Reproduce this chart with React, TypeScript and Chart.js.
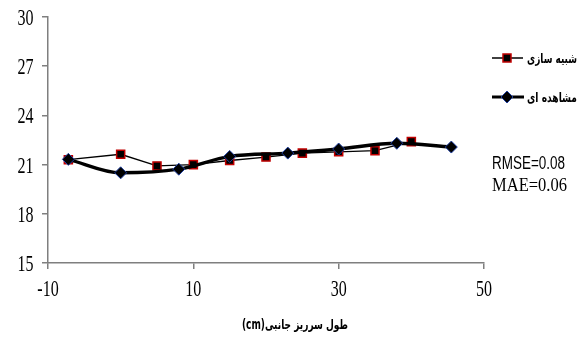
import React, { useEffect, useRef } from 'react';
import { Chart, registerables } from 'chart.js';
Chart.register(...registerables);

const simX = [-7.2, 0, 5, 10, 15, 20, 25, 30, 35, 40];
const simY = [21.3, 21.63, 20.92, 21.0, 21.25, 21.46, 21.7, 21.78, 21.85, 22.4];
const obsX = [-7.2, 0, 8, 15, 23, 30, 38, 45.5];
const obsY = [21.32, 20.5, 20.72, 21.5, 21.7, 21.95, 22.3, 22.07];
const xTicks = [-10, 10, 30, 50];
const yTicks = [15, 18, 21, 24, 27, 30];
const seriesNames = ['شبیه سازی', 'مشاهده ای'];
const xTitle = 'طول سرریز جانبی(cm)';
const stats = ['RMSE=0.08', 'MAE=0.06'];

const SERIF = "'Liberation Serif', 'Times New Roman', serif";
const AXIS_COLOR = '#7f7f7f';
const FA_FONT = "bold 11px 'DejaVu Sans Condensed', 'DejaVu Sans', sans-serif";

function drawSquare(ctx: CanvasRenderingContext2D, x: number, y: number, s: number) {
  ctx.save();
  ctx.fillStyle = '#000';
  ctx.strokeStyle = '#c00000';
  ctx.lineWidth = 1.5;
  ctx.beginPath();
  ctx.rect(x - s / 2, y - s / 2, s, s);
  ctx.fill();
  ctx.stroke();
  ctx.restore();
}
function drawDiamond(ctx: CanvasRenderingContext2D, x: number, y: number, r: number) {
  ctx.save();
  ctx.fillStyle = '#000';
  ctx.strokeStyle = '#1f3f9f';
  ctx.lineWidth = 1;
  ctx.beginPath();
  ctx.moveTo(x, y - r);
  ctx.lineTo(x + r, y);
  ctx.lineTo(x, y + r);
  ctx.lineTo(x - r, y);
  ctx.closePath();
  ctx.fill();
  ctx.stroke();
  ctx.restore();
}

function fitText(ctx: CanvasRenderingContext2D, text: string, x: number, y: number, w: number, sy: number) {
  const m = ctx.measureText(text).width;
  const sx = w / m;
  ctx.save();
  ctx.translate(x, y);
  ctx.scale(sx, sy);
  ctx.fillText(text, 0, 0);
  ctx.restore();
}

function stretchText(ctx: CanvasRenderingContext2D, text: string, x: number, y: number, sx: number, sy: number) {
  ctx.save();
  ctx.translate(x, y);
  ctx.scale(sx, sy);
  ctx.fillText(text, 0, 0);
  ctx.restore();
}

const annotPlugin = {
  id: 'annot',
  afterDraw(chart: any) {
    const ctx: CanvasRenderingContext2D = chart.ctx;
    const xs = chart.scales.x;
    const ys = chart.scales.y;
    ctx.save();
    // tick labels (vertically stretched serif digits)
    ctx.fillStyle = '#000';
    ctx.font = `16px ${SERIF}`;
    ctx.textBaseline = 'alphabetic';
    ctx.textAlign = 'right';
    yTicks.forEach((v) => {
      stretchText(ctx, String(v), 33.5, ys.getPixelForValue(v) + 8, 1.0, 1.45);
    });
    ctx.textAlign = 'center';
    xTicks.forEach((v) => {
      stretchText(ctx, String(v), xs.getPixelForValue(v), 296, 1.0, 1.45);
    });
    // legend item 1
    ctx.strokeStyle = '#000';
    ctx.lineWidth = 1.5;
    ctx.beginPath();
    ctx.moveTo(492, 58);
    ctx.lineTo(523, 58);
    ctx.stroke();
    drawSquare(ctx, 507, 58, 8);
    // legend item 2
    ctx.lineWidth = 3;
    ctx.beginPath();
    ctx.moveTo(492, 97);
    ctx.lineTo(524, 97);
    ctx.stroke();
    drawDiamond(ctx, 507, 97, 6);
    ctx.fillStyle = '#000';
    ctx.textBaseline = 'middle';
    ctx.direction = 'rtl';
    ctx.textAlign = 'left';
    ctx.font = FA_FONT;
    fitText(ctx, seriesNames[0], 527, 60, 50, 1.2);
    fitText(ctx, seriesNames[1], 527, 99, 50, 1.2);
    // stats
    ctx.direction = 'ltr';
    ctx.font = "16px 'Liberation Sans', sans-serif";
    fitText(ctx, stats[0], 492, 164, 73, 1.1);
    ctx.font = `16px ${SERIF}`;
    fitText(ctx, stats[1], 492, 186, 75, 1.15);
    // x title
    ctx.direction = 'rtl';
    ctx.font = FA_FONT;
    fitText(ctx, xTitle, 242, 326, 106, 1.2);
    ctx.restore();
  },
};

export default function App() {
  const ref = useRef<HTMLCanvasElement>(null);
  useEffect(() => {
    if (!ref.current) return;
    const chart = new Chart(ref.current, {
      type: 'line',
      data: {
        datasets: [
          {
            label: seriesNames[1],
            data: obsX.map((x, i) => ({ x, y: obsY[i] })),
            borderColor: '#000',
            borderWidth: 3.4,
            cubicInterpolationMode: 'monotone',
            pointStyle: 'rectRot',
            pointRadius: 6,
            pointBackgroundColor: '#000',
            pointBorderColor: '#1f3f9f',
            pointBorderWidth: 1,
            order: 0,
          },
          {
            label: seriesNames[0],
            data: simX.map((x, i) => ({ x, y: simY[i] })),
            borderColor: '#000',
            borderWidth: 1.3,
            tension: 0,
            pointStyle: 'rect',
            pointRadius: 5.7,
            pointBackgroundColor: '#000',
            pointBorderColor: '#c00000',
            pointBorderWidth: 1.5,
            order: 1,
          },
        ],
      },
      options: {
        animation: false,
        responsive: false,
        layout: { padding: { top: 17, right: 99, left: 0, bottom: 0 } },
        plugins: { legend: { display: false }, tooltip: { enabled: false } },
        scales: {
          x: {
            type: 'linear',
            min: -10,
            max: 50,
            afterBuildTicks: (s: any) => {
              s.ticks = xTicks.map((v) => ({ value: v }));
            },
            afterFit: (s: any) => {
              s.height = 80;
            },
            grid: { drawOnChartArea: false, drawTicks: true, tickLength: 6, color: AXIS_COLOR, lineWidth: 1.5 },
            border: { display: true, color: AXIS_COLOR, width: 1.5 },
            ticks: { display: false, maxRotation: 0 },
          },
          y: {
            type: 'linear',
            min: 15,
            max: 30,
            afterBuildTicks: (s: any) => {
              s.ticks = yTicks.map((v) => ({ value: v }));
            },
            afterFit: (s: any) => {
              s.width = 48;
            },
            grid: { drawOnChartArea: false, drawTicks: true, tickLength: 6, color: AXIS_COLOR, lineWidth: 1.5 },
            border: { display: true, color: AXIS_COLOR, width: 1.5 },
            ticks: { display: false },
          },
        },
      },
      plugins: [annotPlugin],
    } as any);
    return () => chart.destroy();
  }, []);
  return (
    <div style={{ position: 'absolute', left: 0, top: 0, width: 583, height: 343, background: '#fff' }}>
      <canvas ref={ref} width={583} height={343} style={{ width: 583, height: 343 }} />
    </div>
  );
}
